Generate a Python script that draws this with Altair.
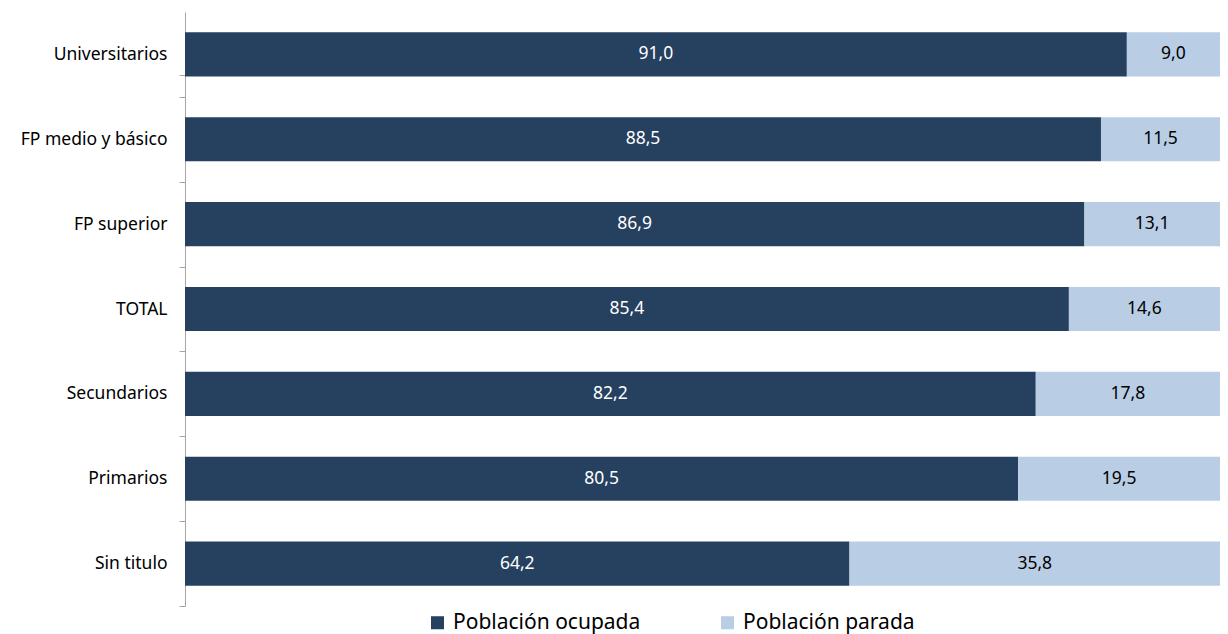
import altair as alt
import pandas as pd

categorias = ["Universitarios", "FP medio y básico", "FP superior", "TOTAL",
              "Secundarios", "Primarios", "Sin titulo"]
ocupada = [91.0, 88.5, 86.9, 85.4, 82.2, 80.5, 64.2]
parada = [9.0, 11.5, 13.1, 14.6, 17.8, 19.5, 35.8]
series = ["Población ocupada", "Población parada"]

DARK = "#264060"
LIGHT = "#B9CDE5"
FONT = "Noto Sans"

PLOT_H = 594
STEP = PLOT_H / len(categorias)

rows = []
for c, o, p in zip(categorias, ocupada, parada):
    rows.append({"cat": c, "serie": series[0], "valor": o, "orden": 0})
    rows.append({"cat": c, "serie": series[1], "valor": p, "orden": 1})
df = pd.DataFrame(rows)

base = alt.Chart(df).transform_stack(
    stack="valor", groupby=["cat"], as_=["x0", "x1"], sort=[alt.SortField("orden")]
).transform_calculate(
    mid="(datum.x0 + datum.x1) / 2",
    label="replace(format(datum.valor, '.1f'), '.', ',')",
)

y_scale = alt.Scale(paddingInner=0.48, paddingOuter=0.24)
y_axis = alt.Axis(title=None, ticks=True, tickSize=6, tickOffset=STEP / 2,
                  labelOffset=-STEP / 2, tickExtra=True,
                  tickColor="#A6A6A6", tickWidth=1, tickOpacity=1,
                  domainColor="#A6A6A6", labelPadding=12, labelFontSize=17.5,
                  labelFont=FONT, labelColor="#000000", grid=False)

bars = base.mark_bar().encode(
    x=alt.X("x0:Q", scale=alt.Scale(domain=[0, 100], nice=False), axis=None),
    x2="x1:Q",
    y=alt.Y("cat:N", sort=categorias, scale=y_scale, axis=y_axis),
    color=alt.Color(
        "serie:N", scale=alt.Scale(domain=series, range=[DARK, LIGHT]),
        legend=alt.Legend(title=None, orient="none", direction="horizontal",
                          legendX=242, legendY=600, symbolType="square",
                          symbolSize=170, symbolStrokeWidth=0, labelFontSize=21,
                          labelFont=FONT, labelColor="#000000", columnPadding=76,
                          labelOffset=5, labelLimit=400),
    ),
    order=alt.Order("orden:Q"),
)

texts = base.mark_text(fontSize=17.5, font=FONT).encode(
    x=alt.X("mid:Q", scale=alt.Scale(domain=[0, 100], nice=False), axis=None),
    y=alt.Y("cat:N", sort=categorias, scale=y_scale, axis=y_axis),
    text="label:N",
    color=alt.condition(alt.datum.orden == 0, alt.value("#FFFFFF"), alt.value("#000000")),
)

chart = alt.layer(bars, texts).properties(
    width=1035, height=PLOT_H,
    background="#FFFFFF",
    autosize=alt.AutoSizeParams(type="none"),
    padding={"left": 177, "top": 4, "right": 0, "bottom": 32},
).configure_view(stroke=None)

chart.save("out.html", embed_options={"renderer": "svg", "actions": False})
